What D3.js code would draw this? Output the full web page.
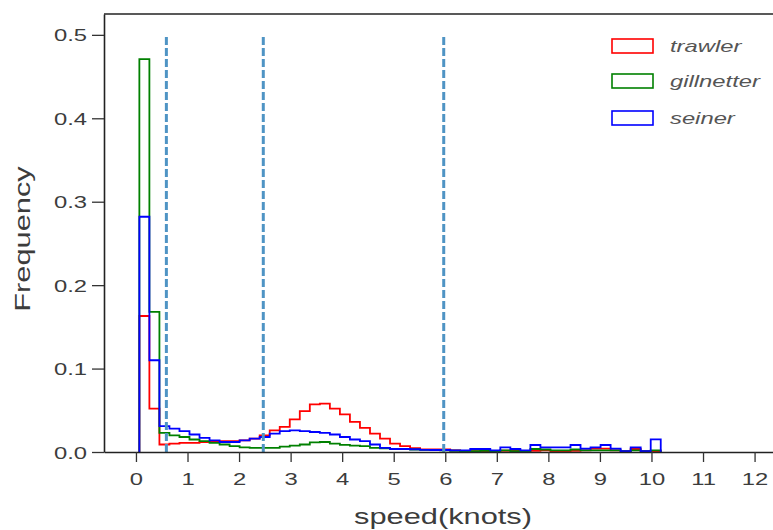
<!DOCTYPE html>
<html>
<head>
<meta charset="utf-8">
<script src="https://cdn.jsdelivr.net/npm/d3@7"></script>
<style>
  html, body { margin: 0; padding: 0; background: #fff; }
  svg { display: block; }
</style>
</head>
<body>
<svg id="chart" width="773" height="530"></svg>
<script>
// histogram bins (speed, knots)
var binStart = 0.066;
var binWidth = 0.1945;

var categories = ["trawler", "gillnetter", "seiner"];
var colors = ["#ff0000", "#008000", "#0000ff"];

var trawler = [0.163, 0.052, 0.009, 0.010, 0.011, 0.011, 0.012, 0.012, 0.013, 0.013,
    0.014, 0.016, 0.020, 0.026, 0.030, 0.039, 0.049, 0.057, 0.058, 0.052,
    0.045, 0.036, 0.029, 0.022, 0.016, 0.010, 0.007, 0.0045, 0.0032, 0.003,
    0.003, 0.002, 0.001, 0.001, 0.001, 0.001, 0.0015, 0.002, 0.001, 0.0015,
    0.002, 0.001, 0.001, 0.0015, 0.002, 0.004, 0.004, 0.002, 0.001, 0.0036,
    0.001, 0.001];
var gillnetter = [0.471, 0.168, 0.023, 0.020, 0.018, 0.015, 0.013, 0.011, 0.009, 0.007,
    0.0055, 0.005, 0.005, 0.005, 0.0065, 0.0076, 0.009, 0.0115, 0.012, 0.010,
    0.0085, 0.0076, 0.007, 0.005, 0.0045, 0.0036, 0.0036, 0.003, 0.0025, 0.0024,
    0.002, 0.0015, 0.001, 0.001, 0.0015, 0.001, 0.002, 0.001, 0.001, 0.0036,
    0.003, 0.002, 0.002, 0.003, 0.002, 0.002, 0.002, 0.002, 0.001, 0.002,
    0.001, 0.002];
var seiner = [0.282, 0.110, 0.031, 0.028, 0.025, 0.021, 0.017, 0.014, 0.012, 0.012,
    0.014, 0.016, 0.018, 0.022, 0.025, 0.026, 0.025, 0.024, 0.023, 0.021,
    0.018, 0.015, 0.013, 0.009, 0.005, 0.0036, 0.0036, 0.0033, 0.0025, 0.0024,
    0.0024, 0.002, 0.002, 0.0036, 0.0036, 0.002, 0.0056, 0.0036, 0.002, 0.0084,
    0.0056, 0.0056, 0.0056, 0.0084, 0.004, 0.0056, 0.0084, 0.004, 0.001, 0.0056,
    0.001, 0.0152];

// dashed speed thresholds
var thresholds = [0.59, 2.47, 5.97];

var xTickValues = [0, 1, 2, 3, 4, 5, 6, 7, 8, 9, 10, 11, 12];
var yTickValues = [0.0, 0.1, 0.2, 0.3, 0.4, 0.5];

var series = [trawler, gillnetter, seiner];
var stretch = 1.4; // text in the picture is drawn wide
var textColor = "#3c3c3c";

var svg = d3.select("#chart");

var x = d3.scaleLinear()
    .domain([-0.62, 12.6])
    .range([104, 785.5]);
var y = d3.scaleLinear()
    .domain([0, 0.525])
    .range([452, 14]);

// histograms (step outlines)
var line = d3.line()
    .x(function (d) { return x(d[0]); })
    .y(function (d) { return y(d[1]); });

series.forEach(function (values, s) {
    var pts = [[binStart, 0]];
    values.forEach(function (v, i) {
        pts.push([binStart + i * binWidth, v]);
        pts.push([binStart + (i + 1) * binWidth, v]);
    });
    pts.push([binStart + values.length * binWidth, 0]);
    svg.append("path")
        .attr("d", line(pts))
        .attr("fill", "none")
        .attr("stroke", colors[s])
        .attr("stroke-width", 1.8)
        .attr("stroke-linejoin", "miter");
});

// threshold lines
svg.selectAll(".thr")
    .data(thresholds)
    .enter().append("line")
    .attr("class", "thr")
    .attr("x1", function (d) { return x(d); })
    .attr("x2", function (d) { return x(d); })
    .attr("y1", y(0))
    .attr("y2", y(0.5))
    .attr("stroke", "#4f94c4")
    .attr("stroke-width", 3)
    .attr("stroke-dasharray", "8,3");

// axes
var xAxis = d3.axisBottom(x)
    .tickValues(xTickValues)
    .tickSize(10)
    .tickSizeOuter(0)
    .tickFormat(d3.format("d"));
var xg = svg.append("g")
    .attr("transform", "translate(0," + y(0) + ")")
    .call(xAxis);
xg.selectAll("text")
    .attr("y", 0)
    .attr("dy", 0)
    .attr("transform", "translate(0,33) scale(" + stretch + ",1)");

var yAxis = d3.axisLeft(y)
    .tickValues(yTickValues)
    .tickSize(12)
    .tickSizeOuter(0)
    .tickFormat(d3.format(".1f"));
var yg = svg.append("g")
    .attr("transform", "translate(" + x(-0.62) + ",0)")
    .call(yAxis);
yg.selectAll("text")
    .attr("x", 0)
    .attr("dy", "0.36em")
    .attr("transform", "translate(-17,0) scale(" + stretch + ",1)");

[xg, yg].forEach(function (g) {
    g.selectAll(".domain").attr("stroke", "#222").attr("stroke-width", 1.6);
    g.selectAll(".tick line").attr("stroke", "#333").attr("stroke-width", 1.3);
    g.selectAll("text")
        .attr("fill", textColor)
        .attr("font-family", "Liberation Sans, Arial, sans-serif")
        .attr("font-size", "17px");
});

// top spine
svg.append("line")
    .attr("x1", x(-0.62))
    .attr("x2", x(12.6))
    .attr("y1", y(0.525))
    .attr("y2", y(0.525))
    .attr("stroke", "#222")
    .attr("stroke-width", 1.6);

// axis labels
svg.append("text")
    .attr("transform", "translate(443,524) scale(" + stretch + ",1)")
    .attr("text-anchor", "middle")
    .attr("font-family", "Liberation Sans, Arial, sans-serif")
    .attr("font-size", "22px")
    .attr("fill", textColor)
    .text("speed(knots)");

svg.append("text")
    .attr("transform", "translate(30,239) rotate(-90) scale(" + stretch + ",1)")
    .attr("text-anchor", "middle")
    .attr("font-family", "Liberation Sans, Arial, sans-serif")
    .attr("font-size", "22px")
    .attr("fill", textColor)
    .text("Frequency");

// legend
var legendY = [46, 81, 118];
var legend = svg.selectAll(".legend")
    .data(categories)
    .enter().append("g")
    .attr("class", "legend")
    .attr("transform", function (d, i) { return "translate(612," + legendY[i] + ")"; });

legend.append("rect")
    .attr("x", 0)
    .attr("y", -7)
    .attr("width", 41)
    .attr("height", 14)
    .attr("fill", "none")
    .attr("stroke", function (d, i) { return colors[i]; })
    .attr("stroke-width", 1.6);

legend.append("text")
    .attr("transform", "translate(58,6) scale(" + stretch + ",1)")
    .attr("font-family", "Liberation Sans, Arial, sans-serif")
    .attr("font-style", "italic")
    .attr("font-size", "17px")
    .attr("fill", "#555")
    .text(function (d) { return d; });
</script>
</body>
</html>
